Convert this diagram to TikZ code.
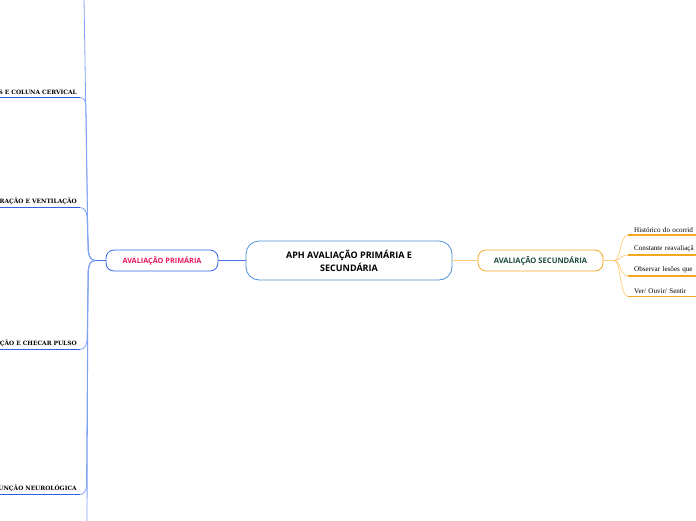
\documentclass[tikz,border=0pt]{standalone}
\usepackage{fontspec}
\setmainfont{Open Sans}
\newfontfamily\leftfont{DejaVu Serif}
\newfontfamily\rightfont{Liberation Serif}
\usetikzlibrary{positioning}
\definecolor{rootblue}{HTML}{4A90D9}
\definecolor{primblue}{HTML}{3366E6}
\definecolor{primtext}{HTML}{E8175D}
\definecolor{leafblue}{HTML}{7FA2F5}
\definecolor{lineblue}{HTML}{2F62E0}
\definecolor{secorange}{HTML}{F5A623}
\definecolor{sectext}{HTML}{1E4D3B}
\definecolor{leaforange}{HTML}{FFCB7A}

\begin{document}
\begin{tikzpicture}[
  x=1pt, y=-1pt,
  rootbox/.style  = {draw=rootblue, rounded corners=13pt, line width=0.8pt,
                     minimum width=206pt, minimum height=39pt, align=center,
                     font=\fontsize{9}{13}\selectfont\bfseries, fill=white},
  primbox/.style  = {draw=primblue, rounded corners=8pt, line width=0.8pt,
                     minimum width=112pt, minimum height=21pt,
                     font=\fontsize{7.3}{8}\selectfont\bfseries, text=primtext, fill=white},
  secbox/.style   = {draw=secorange, rounded corners=8pt, line width=0.8pt,
                     minimum width=125pt, minimum height=21pt,
                     font=\fontsize{7.6}{8}\selectfont\bfseries, text=sectext, fill=white},
  leftleaf/.style = {anchor=south east, text width=110pt, align=right,
                     inner xsep=3pt, inner ysep=3pt,
                     font=\leftfont\fontsize{5.9}{6}\selectfont\bfseries},
  rightleaf/.style= {anchor=south west, text width=62pt, align=left,
                     inner xsep=6pt, inner ysep=2.5pt,
                     font=\rightfont\fontsize{7.1}{8}\selectfont},
  primline/.style = {draw=primblue!90, line width=0.8pt},
  leftline/.style = {draw=leafblue, line width=0.8pt},
  leftunder/.style= {draw=lineblue, line width=1.3pt},
  secline/.style  = {draw=leaforange, line width=0.8pt},
  rightline/.style= {draw=leaforange, line width=0.7pt},
  rightunder/.style={draw=secorange, line width=1.3pt},
]
\useasboundingbox (0,0) rectangle (696,520);

%% ==================== CENTRE ====================
\node[rootbox] (root) at (349,260.5) {APH AVALIAÇÃO PRIMÁRIA E\\SECUNDÁRIA};
\node[primbox] (prim) at (162,260.5) {AVALIAÇÃO PRIMÁRIA};
\node[secbox]  (sec)  at (540.5,260.5) {AVALIAÇÃO SECUNDÁRIA};

\draw[primline] (root.west) -- (prim.east);
\draw[secline]  (root.east) -- (sec.west);

%% ==================== LEFT BRANCH ====================
\node[leftleaf] (vias)  at (80,97.5)  {S E COLUNA CERVICAL};
\node[leftleaf] (resp)  at (80,207.5) {RAÇÃO E VENTILAÇÃO};
\node[leftleaf] (circ)  at (80,349.5) {ÇÃO E CHECAR PULSO};
\node[leftleaf] (neuro) at (80,494.5) {UNÇÃO NEUROLÓGICA};

\foreach \n in {vias,resp,circ,neuro}
  \draw[leftunder] (\n.south west) -- (\n.south east);

\coordinate (jl) at (95,260.5);
\coordinate (topend) at (84,-2);
\coordinate (botend) at (87,522);
\draw[primline] (prim.west) -- (jl);

\draw[leftline] (jl) to[out=180,in=270] (88,248) -- (topend);
\draw[leftline] (jl) to[out=180,in=270] (88,248) -- (86,107) to[out=90,in=0] (vias.south east);
\draw[leftline] (jl) to[out=180,in=270] (88.5,248) -- (87,217) to[out=90,in=0] (resp.south east);
\draw[leftline] (jl) to[out=180,in=90] (88.5,273) -- (87,340) to[out=270,in=0] (circ.south east);
\draw[leftline] (jl) to[out=180,in=90] (88,273) -- (86.5,485) to[out=270,in=0] (neuro.south east);
\draw[leftline] (jl) to[out=180,in=90] (88,273) -- (botend);

%% ==================== RIGHT BRANCH ====================
\node[rightleaf] (hist) at (628,235) {Histórico do ocorrid};
\node[rightleaf] (reav) at (628,255) {Constante reavaliaçã};
\node[rightleaf] (obs)  at (628,276) {Observar lesões que};
\node[rightleaf] (ver)  at (628,296.5) {Ver/ Ouvir/ Sentir};

\foreach \n in {hist,reav,obs,ver}
  \draw[rightunder] (\n.south west) -- (\n.south east);

\coordinate (jr) at (614,260.5);
\draw[secline] (sec.east) -- (jr);
\foreach \n in {hist,reav,obs,ver}
  \draw[rightline] (jr) .. controls (621,260.5) and ([xshift=-8pt]\n.south west) .. (\n.south west);

\end{tikzpicture}
\end{document}
